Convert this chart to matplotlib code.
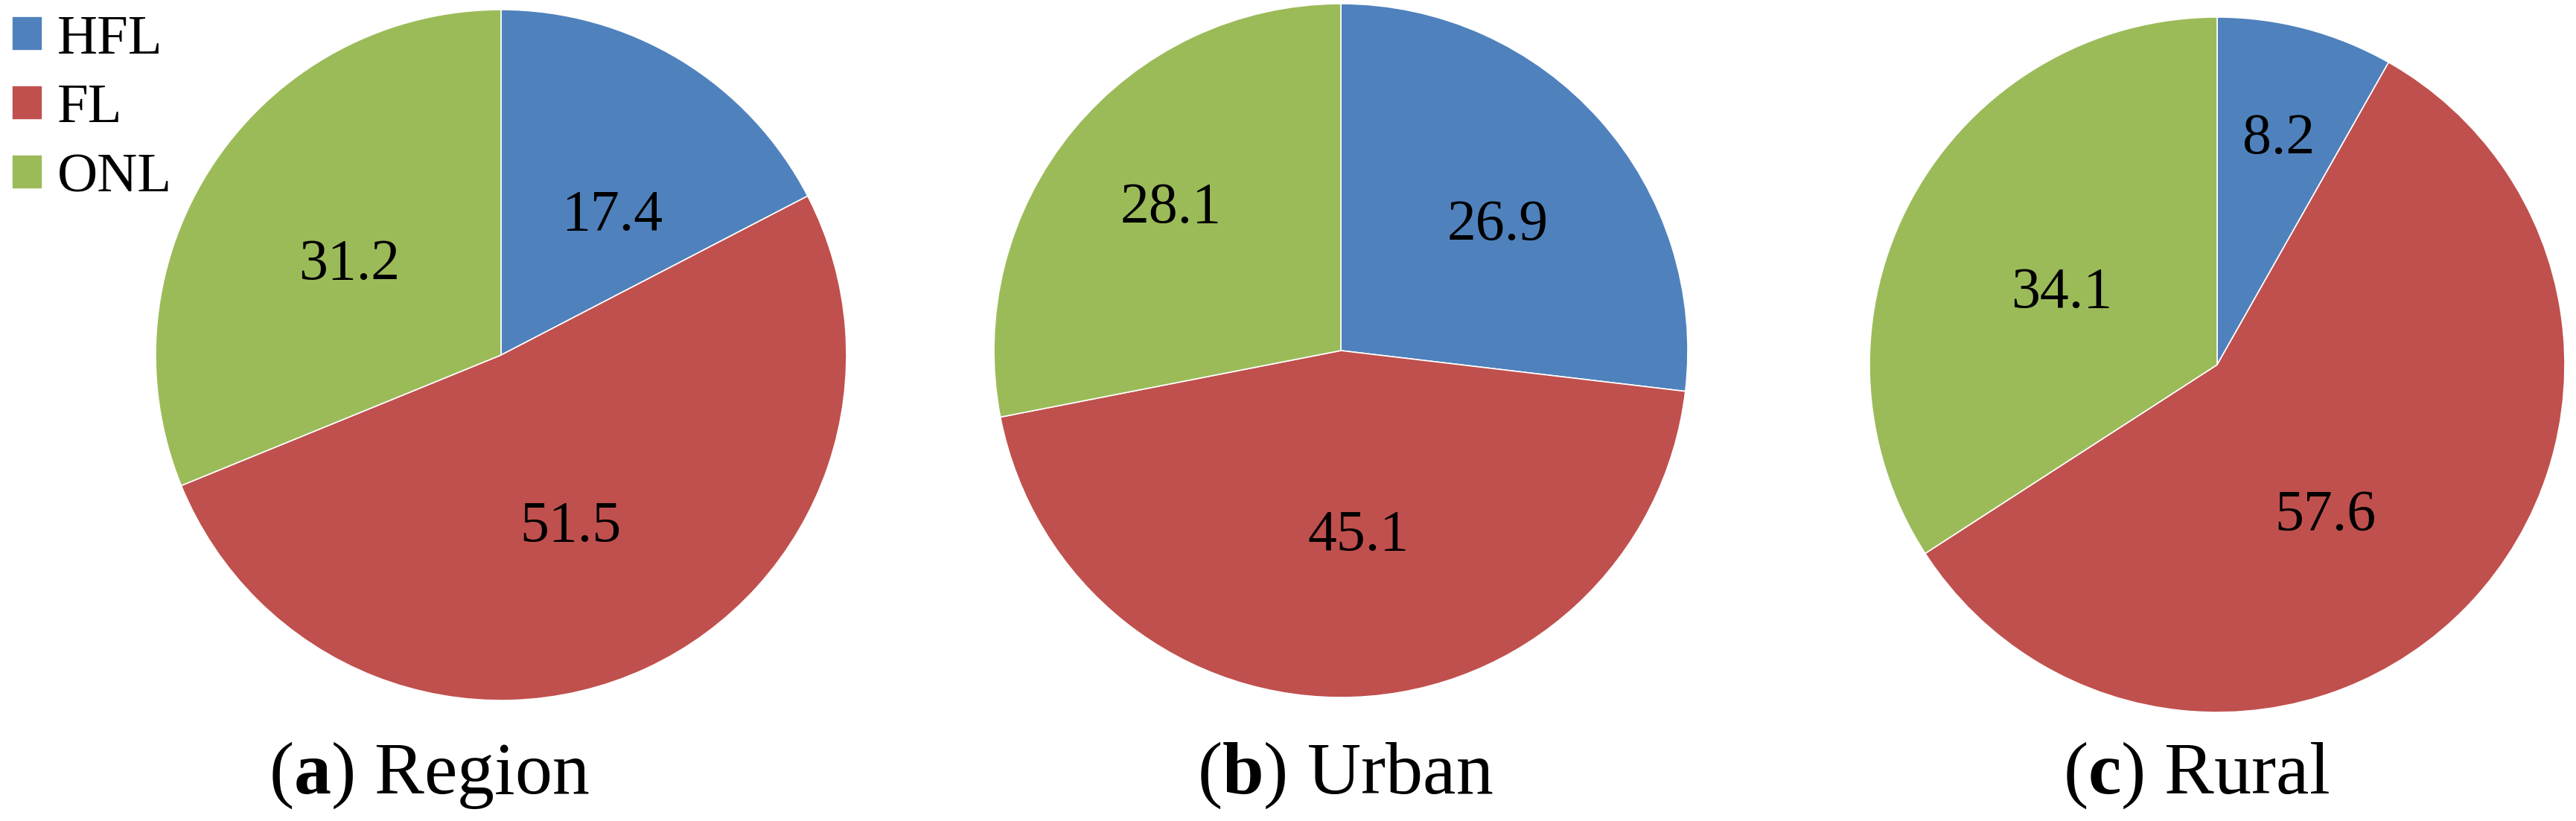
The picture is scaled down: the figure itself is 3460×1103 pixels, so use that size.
import numpy as np
import matplotlib
matplotlib.use("Agg")
import matplotlib.pyplot as plt
from matplotlib import font_manager as fm

# --- dados (percentuais) ---
categories = ["HFL", "FL", "ONL"]
region = [17.4, 51.5, 31.2]
urban = [26.9, 45.1, 28.1]
rural = [8.2, 57.6, 34.1]
panel_tags = ["a", "b", "c"]
panel_names = ["Region", "Urban", "Rural"]

colors = ["#4F81BD", "#C0504D", "#9BBB59"]

plt.rcParams["font.family"] = ["Liberation Serif", "DejaVu Serif"]
plt.rcParams["mathtext.fontset"] = "custom"
plt.rcParams["mathtext.rm"] = "Liberation Serif"
plt.rcParams["mathtext.bf"] = "Liberation Serif:bold"

serif_path = fm.findfont(fm.FontProperties(family="Liberation Serif"))

def serif(size):
    return fm.FontProperties(fname=serif_path, size=size)

W, H = 3460, 1103
fig = plt.figure(figsize=(W / 100, H / 100), dpi=100)

# layout of each pie in pixels: centre x, centre y, radius
layout = [(673, 477, 464), (1801, 471, 466), (2978, 490, 467)]
# label placement (radial fraction, angle tweak in degrees)
label_r = [[0.53, 0.52, 0.52], [0.59, 0.52, 0.65], [0.69, 0.52, 0.50]]
label_turn = [[-6, -2, 1.6], [-1.7, 3.5, -1.7], [0, -10, 2]]
caption_x = [576, 1807, 2950]

handles = None
for i, vals in enumerate([region, urban, rural]):
    cx, cy, r = layout[i]
    ax = fig.add_axes([(cx - r) / W, 1 - (cy + r) / H, 2 * r / W, 2 * r / H])
    wedges, _ = ax.pie(vals, colors=colors, startangle=90, counterclock=False,
                       wedgeprops=dict(edgecolor="white", linewidth=1.2))
    ax.set_xlim(-1, 1)
    ax.set_ylim(-1, 1)
    ax.set_aspect("auto")
    ax.axis("off")
    for j, w in enumerate(wedges):
        ang = np.deg2rad((w.theta1 + w.theta2) / 2 + label_turn[i][j])
        d = label_r[i][j]
        ax.text(d * np.cos(ang), d * np.sin(ang), f"{vals[j]:.1f}",
                ha="center", va="center_baseline", fontproperties=serif(56))
    if handles is None:
        handles = wedges
    fig.text(caption_x[i] / W, 1 - 1066 / H,
             r"($\mathbf{" + panel_tags[i] + r"}$) " + panel_names[i],
             ha="center", va="baseline", fontsize=72)

fig.legend(handles, categories, loc="upper left", bbox_to_anchor=(16 / W, 1 - 20 / H),
           frameon=False, prop=serif(54), handlelength=0.55, handleheight=0.55,
           handletextpad=0.26, labelspacing=0.34, borderpad=0, borderaxespad=0)

fig.savefig("out.png", dpi=100)
